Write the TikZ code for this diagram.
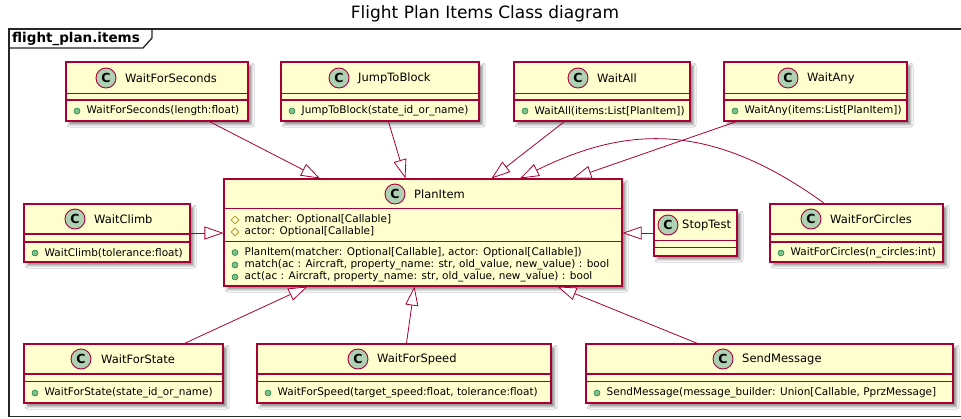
\documentclass[tikz,border=0pt]{standalone}
\usepackage{fontspec}
\setmainfont{DejaVu Sans}
\usetikzlibrary{arrows.meta,calc,fit,shadows.blur,shapes.geometric}

\definecolor{umlborder}{HTML}{A80036}
\definecolor{umlfill}{HTML}{FEFECE}
\definecolor{umlicon}{HTML}{ADD1B2}
\definecolor{pubfill}{HTML}{84BE84}
\definecolor{pubdraw}{HTML}{038048}
\definecolor{protdraw}{HTML}{B38D22}

\tikzset{
  classbox/.style={draw=umlborder, fill=umlfill, line width=1.1pt, inner sep=0pt,
    blur shadow={shadow xshift=3.5pt, shadow yshift=-3.5pt, shadow blur radius=2.5pt, shadow opacity=45}},
  divider/.style={draw=umlborder, line width=1.1pt},
  classicon/.style={circle, draw=umlborder, fill=umlicon, line width=0.9pt,
    minimum size=20pt, inner sep=0pt, font=\fontsize{12.5}{12.5}\selectfont\bfseries},
  classname/.style={anchor=west, inner sep=0pt, font=\fontsize{11.5}{12}\selectfont},
  member/.style={anchor=west, inner sep=0pt, font=\fontsize{10.5}{12}\selectfont},
  pubdot/.style={circle, draw=pubdraw, fill=pubfill, line width=0.5pt, minimum size=6pt, inner sep=0pt},
  protmark/.style={diamond, aspect=1, draw=protdraw, line width=0.8pt, minimum size=8pt, inner sep=0pt},
  extends/.style={draw=umlborder, line width=0.8pt,
    -{Triangle[length=19pt, width=13pt, fill=white]}},
}

% class box: node name, x1, y1, x2, y2, first divider, second divider (both from top)
\newcommand\umlclass[7]{%
  \node[classbox, fit={(#2,#3) (#4,#5)}] (#1) {};
  \draw[divider] ($(#1.north west)+(0,#6)$) -- ($(#1.north east)+(0,#6)$)
                 ($(#1.north west)+(0,#7)$) -- ($(#1.north east)+(0,#7)$);
}
% class header: node name, icon x, y, title, gap to title
\newcommand\umlheader[5]{%
  \node[classicon] (#1icon) at (#2,#3) {C};
  \node[classname] (#1name) at (#2+#5,#3) {#4};
}
% public member: node name, x of marker, y, text
\newcommand\pubmember[4]{%
  \node[pubdot] (#1dot) at (#2,#3) {};
  \node[member] (#1) at (#2+9.5,#3) {#4};
}
% protected member: node name, x of marker, y, text
\newcommand\protmember[4]{%
  \node[protmark] (#1mark) at (#2,#3) {};
  \node[member] (#1) at (#2+9.5,#3) {#4};
}

\begin{document}
\begin{tikzpicture}[x=1pt, y=-1pt]
\useasboundingbox (0,0) rectangle (961,418);
\fill[white] (0,0) rectangle (961,418);

% title
\node[font=\fontsize{17}{18}\selectfont] (title) at (485,14) {Flight Plan Items Class diagram};

% package frame with its tab
\clip (0,0) rectangle (961,418);
\draw[black!85, line width=1.3pt] (975,29) -- (9,29) -- (9,416.5) -- (975,416.5);
\draw[black!85, line width=1.3pt] (9,48) -- (143,48) -- (152,38) -- (152,29);
\node[anchor=west, inner sep=0pt, font=\fontsize{13.5}{14}\selectfont\bfseries] (pkg) at (12,38.5) {flight\_plan.items};

% top row
\umlclass{wfs}{66}{62}{248}{121}{32}{38.5}
\umlheader{wfs}{106}{78}{WaitForSeconds}{19}
\pubmember{wfsm}{77}{111}{WaitForSeconds(length:float)}

\umlclass{jtb}{281}{62}{479}{121}{32}{38.5}
\umlheader{jtb}{339}{78}{JumpToBlock}{19}
\pubmember{jtbm}{292}{111}{JumpToBlock(state\_id\_or\_name)}

\umlclass{wall}{514}{62}{690}{121}{32}{38.5}
\umlheader{wall}{578}{78}{WaitAll}{19}
\pubmember{wallm}{525}{111}{WaitAll(items:List[PlanItem])}

\umlclass{wany}{724}{62}{907}{121}{32}{38.5}
\umlheader{wany}{788}{78}{WaitAny}{19}
\pubmember{wanym}{735}{111}{WaitAny(items:List[PlanItem])}

% middle row
\umlclass{wc}{24}{204}{190}{262}{30.5}{38.5}
\umlheader{wc}{75}{219}{WaitClimb}{19}
\pubmember{wcm}{35}{253}{WaitClimb(tolerance:float)}

\umlclass{pi}{224}{179}{622}{286}{30}{63}
\umlheader{pi}{395}{194}{PlanItem}{19}
\protmember{pia}{235}{220}{matcher: Optional[Callable]}
\protmember{pib}{235}{232}{actor: Optional[Callable]}
\pubmember{pic}{235}{252.5}{PlanItem(matcher: Optional[Callable], actor: Optional[Callable])}
\pubmember{pid}{235}{265}{match(ac : Aircraft, property\_name: str, old\_value, new\_value) : bool}
\pubmember{pie}{235}{277}{act(ac : Aircraft, property\_name: str, old\_value, new\_value) : bool}

\umlclass{st}{654}{210}{737}{256}{31}{38}
\umlheader{st}{668}{225}{StopTest}{14}

\umlclass{wfc}{770}{204}{943}{262}{30.5}{38.5}
\umlheader{wfc}{811}{219}{WaitForCircles}{19}
\pubmember{wfcm}{781}{253}{WaitForCircles(n\_circles:int)}

% bottom row
\umlclass{wst}{24}{344}{223}{403}{30.5}{38}
\umlheader{wst}{81}{359}{WaitForState}{20}
\pubmember{wstm}{35}{393}{WaitForState(state\_id\_or\_name)}

\umlclass{wsp}{257}{344}{551}{403}{30.5}{38}
\umlheader{wsp}{358}{359}{WaitForSpeed}{19}
\pubmember{wspm}{268}{393}{WaitForSpeed(target\_speed:float, tolerance:float)}

\umlclass{sm}{586}{344}{953}{403}{30.5}{38}
\umlheader{sm}{723}{359}{SendMessage}{19}
\pubmember{smm}{597}{393}{SendMessage(message\_builder: Union[Callable, PprzMessage]}

% generalisations towards PlanItem
\draw[extends] ($(wfs.south west)+(144,0)$) -- ($(pi.north west)+(96.5,0)$);
\draw[extends] ($(jtb.south west)+(108,0)$) -- ($(pi.north west)+(182,0)$);
\draw[extends] ($(wall.south west)+(51,0)$) -- ($(pi.north west)+(268,0)$);
\draw[extends] ($(wany.south west)+(13,0)$) -- ($(pi.north west)+(349,0)$);
\draw[extends] ($(wfc.north west)+(55,0)$) .. controls (712,122) and (628,125) .. ($(pi.north west)+(296.5,0)$);
\draw[extends] (wc.east) -- (wc.east -| pi.west);
\draw[extends] (st.west) -- (st.west -| pi.east);
\draw[extends] ($(wst.north west)+(161,0)$) -- ($(pi.south west)+(84,0)$);
\draw[extends] ($(wsp.north west)+(150,0)$) -- ($(pi.south west)+(191,0)$);
\draw[extends] ($(sm.north west)+(112,0)$) -- ($(pi.south west)+(334,0)$);
\end{tikzpicture}
\end{document}
